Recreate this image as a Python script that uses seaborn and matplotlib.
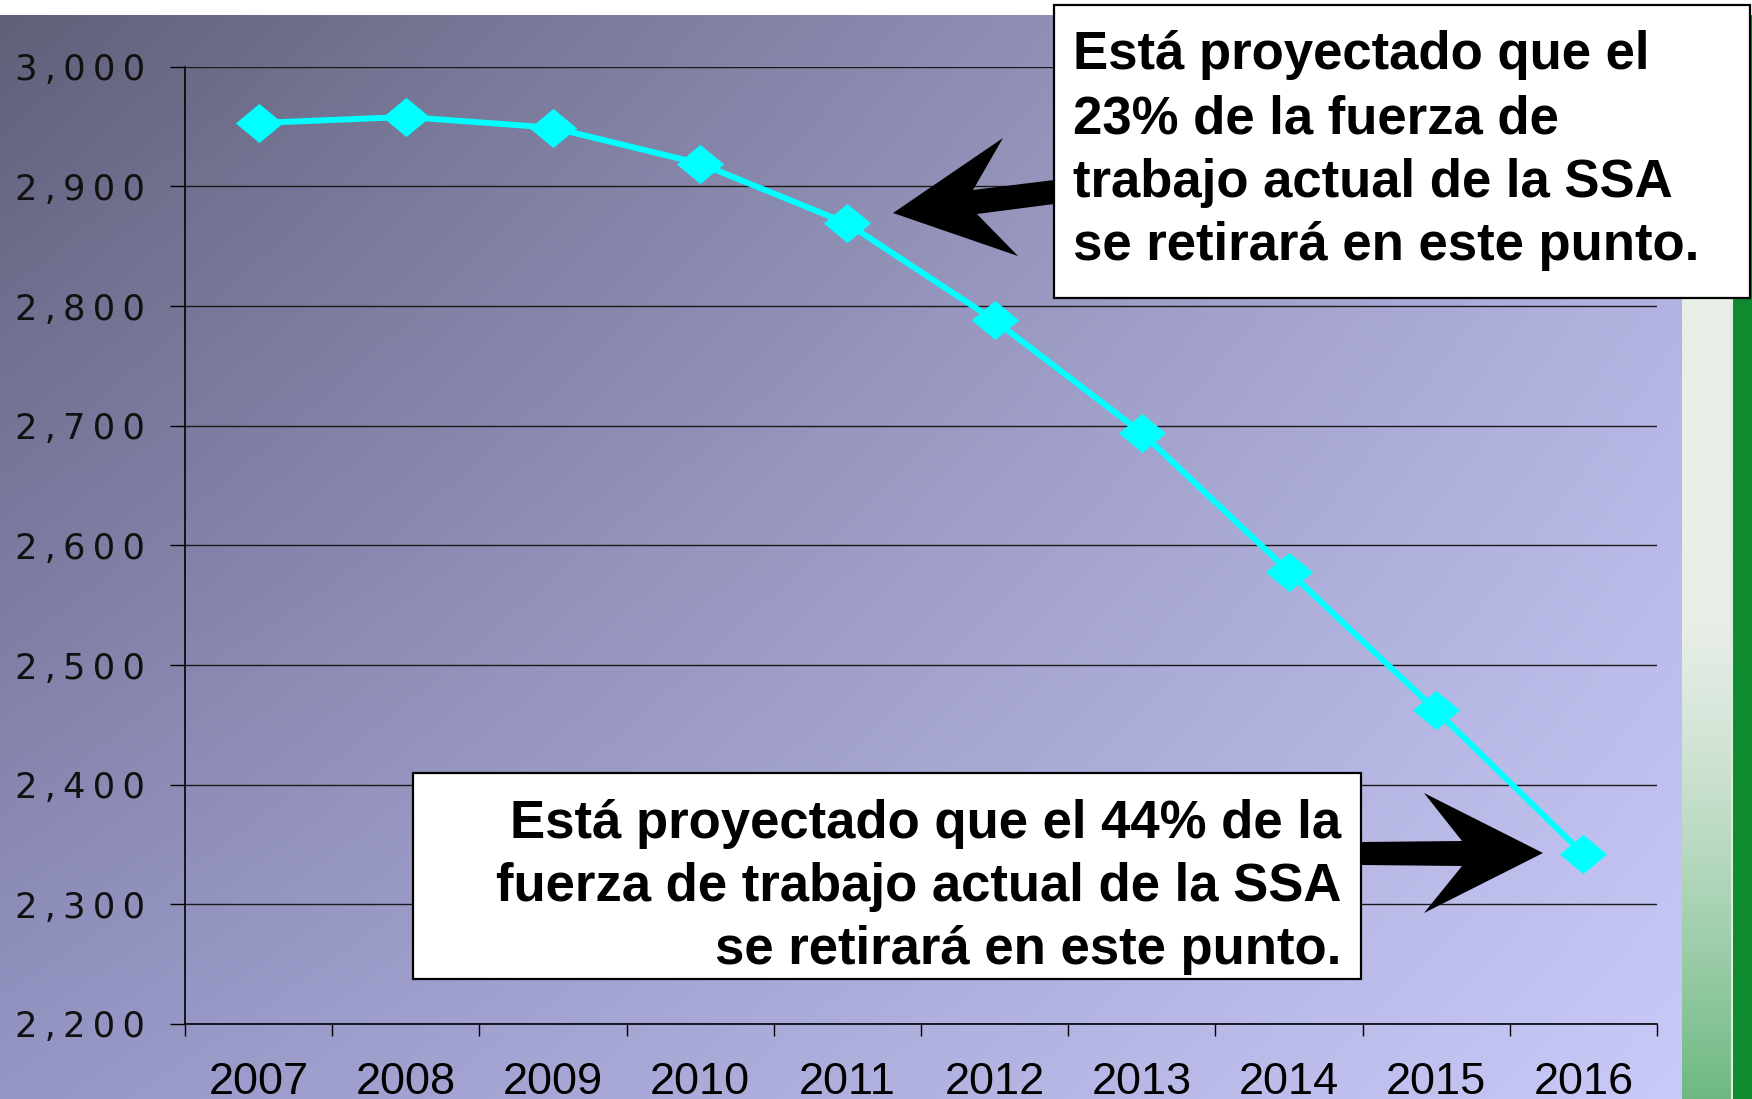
import numpy as np
import pandas as pd
import matplotlib
matplotlib.use("Agg")
import matplotlib.pyplot as plt
import seaborn as sns
from matplotlib.patches import Rectangle, Polygon

# ---------------- data ----------------
years = ["2007", "2008", "2009", "2010", "2011", "2012", "2013", "2014", "2015", "2016"]
employees = [2953, 2958, 2949, 2919, 2869, 2788, 2694, 2578, 2462, 2342]
y_ticks = [2200, 2300, 2400, 2500, 2600, 2700, 2800, 2900, 3000]
note_top = ["Está proyectado que el", "23% de la fuerza de",
            "trabajo actual de la SSA", "se retirará en este punto."]
note_bottom = ["Está proyectado que el 44% de la",
               "fuerza de trabajo actual de la SSA",
               "se retirará en este punto."]

W, H, DPI = 1752, 1099, 100
sns.set_theme(style="white")
plt.rcParams["font.family"] = ["DejaVu Sans"]

fig = plt.figure(figsize=(W / DPI, H / DPI), dpi=DPI)
fig.patch.set_facecolor("white")

# ---------------- background ----------------
bg = fig.add_axes([0, 0, 1, 1], zorder=0)
bg.set_xlim(0, W); bg.set_ylim(H, 0); bg.axis("off")
gx, gy = np.meshgrid(np.linspace(0, 1, 300), np.linspace(0, 1, 300))
gx = gx[..., None]; gy = gy[..., None]
TL = np.array([96, 96, 122]); TR = np.array([172, 172, 218])
BL = np.array([150, 150, 198]); BR = np.array([202, 202, 248])
grad = (TL * (1 - gx) * (1 - gy) + TR * gx * (1 - gy) + BL * (1 - gx) * gy + BR * gx * gy) / 255
bg.imshow(grad, extent=[0, 1682, H, 15], aspect="auto", interpolation="bilinear")
sy = np.linspace(0, 1, 300)
wgt = np.clip((sy - 0.55) / 0.45, 0, 1) ** 1.3
wgt = wgt[:, None, None]
strip = (np.array([232, 238, 232]) * (1 - wgt) + np.array([110, 185, 130]) * wgt) / 255
strip = np.repeat(strip, 2, axis=1)
bg.imshow(strip, extent=[1682, 1732, H, 15], aspect="auto", interpolation="bilinear")
bg.add_patch(Rectangle((1732, 15), 20, H - 15, facecolor="#0e8a2f", edgecolor="none"))
bg.plot([1732, 1732], [15, H], color="#d8f0d8", lw=1.5)
bg.set_xlim(0, W); bg.set_ylim(H, 0)

# ---------------- main axes ----------------
ax = fig.add_axes([185 / W, 1 - 1024 / H, (1657 - 185) / W, (1024 - 66.7) / H], zorder=2)
ax.patch.set_alpha(0)
df = pd.DataFrame({"year": years, "value": employees})
df["pos"] = np.arange(len(years))
diamond = [(-1, 0), (0, 0.83), (1, 0), (0, -0.83), (-1, 0)]
sns.lineplot(data=df, x="pos", y="value", ax=ax, color="#00ffff", linewidth=4.3,
             marker=diamond, markersize=34, markeredgewidth=0, zorder=3)

ax.set_xlim(-0.5, 9.5)
ax.set_ylim(2200, 3000)
ax.set_xlabel(""); ax.set_ylabel("")
ax.set_xticks(range(len(years)))
ax.set_xticklabels(years, fontfamily="Liberation Sans", fontsize=32.5, color="black")
ax.set_xticks(np.arange(-0.5, len(years), 1), minor=True)
ax.tick_params(axis="x", which="major", bottom=True, length=0, pad=27)
ax.tick_params(axis="x", which="minor", bottom=True, length=12 * 0.72, width=1,
               color="black", direction="out")

def spaced(v):
    return "\u2009".join(list(f"{v:,}"))

ax.set_yticks(y_ticks)
ax.set_yticklabels([spaced(v) for v in y_ticks], fontsize=25.5, color="#111111")
ax.tick_params(axis="y", left=True, length=15 * 0.72, width=1, color="black",
               direction="out", pad=18)
ax.yaxis.grid(True, color="#1a1a1a", linewidth=1)
ax.xaxis.grid(False)
for s in ["top", "right"]:
    ax.spines[s].set_visible(False)
for s in ["left", "bottom"]:
    ax.spines[s].set_color("black")
    ax.spines[s].set_linewidth(1.2)

# ---------------- overlay: boxes, arrows ----------------
ov = fig.add_axes([0, 0, 1, 1], zorder=5)
ov.set_xlim(0, W); ov.set_ylim(H, 0); ov.axis("off")
ov.patch.set_alpha(0)

ov.add_patch(Rectangle((1054, 5), 696, 293, facecolor="white", edgecolor="black", lw=1.6))
ov.add_patch(Rectangle((413, 773), 948, 206, facecolor="white", edgecolor="black", lw=1.6))

tfont = dict(fontfamily="Liberation Sans", fontweight="bold", fontsize=38, color="black")
for line, yb in zip(note_top, [69, 133, 197, 260]):
    ov.text(1073, yb, line, ha="left", va="baseline", **tfont)
for line, yb in zip(note_bottom, [838, 901, 964]):
    ov.text(1341, yb, line, ha="right", va="baseline", **tfont)

arrow_top = [(893, 213), (1003, 138), (973, 190), (1054, 180), (1054, 204),
             (977, 214), (1018, 256)]
arrow_bot = [(1362, 842), (1462, 841), (1424, 793), (1543, 853), (1424, 913),
             (1462, 866), (1362, 865)]
ov.add_patch(Polygon(arrow_top, closed=True, facecolor="black", edgecolor="none"))
ov.add_patch(Polygon(arrow_bot, closed=True, facecolor="black", edgecolor="none"))

fig.savefig("out.png", dpi=DPI)
